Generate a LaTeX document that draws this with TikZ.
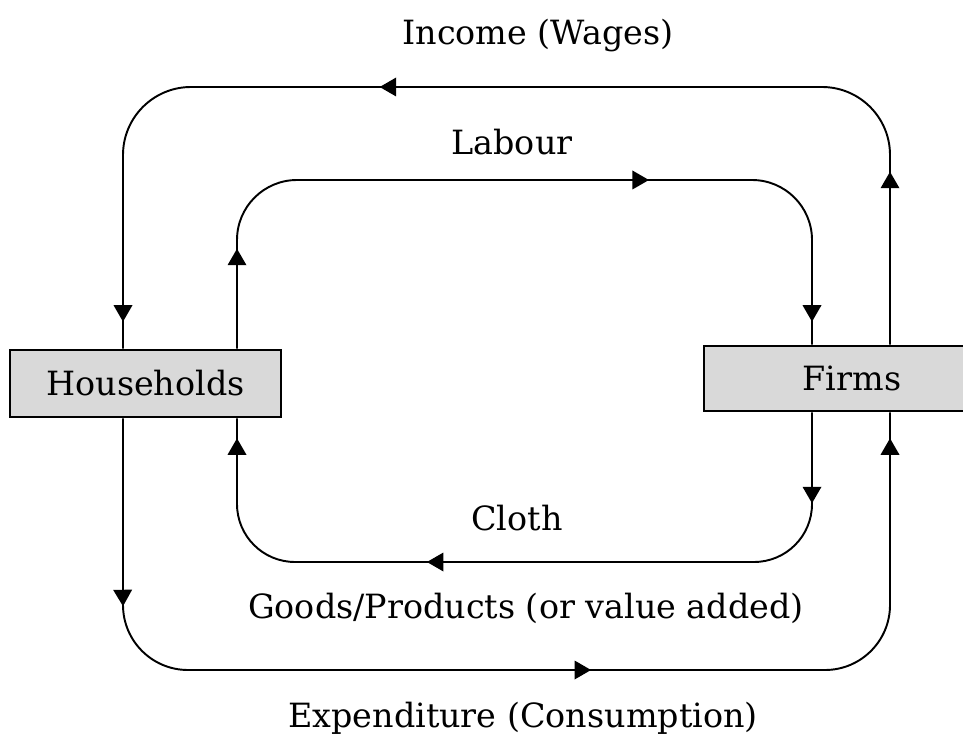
\documentclass[tikz,border=0pt]{standalone}
\usepackage{fontspec}
\setmainfont{DejaVu Serif}
\usetikzlibrary{arrows.meta, decorations.markings}

\tikzset{tri/.tip = {Triangle[length = 0.33cm, width = 0.37cm]}}

\begin{document}
\begin{tikzpicture}[x = 0.02cm, y = -0.02cm,
	sector/.style = {draw, line width = 1.5pt, fill = black!15, inner sep = 0pt, font = \fontsize{19}{23}\selectfont},
	flow/.style = {line width = 1.1pt},
	flowtext/.style = {anchor = base, font = \fontsize{19}{23}\selectfont},
	tips/.style n args = {3}{decoration = {markings,
		mark = at position #1 with {\arrow{tri}},
		mark = at position #2 with {\arrow{tri}},
		mark = at position #3 with {\arrow{tri}}}, postaction = decorate}]

	\useasboundingbox (0, 0) rectangle (963, 736);

	% Sectors

	\node [sector, minimum width = 5.42cm, minimum height = 1.34cm] (households) at (145.5, 383.5) {Households};
	\node [sector, minimum width = 5.92cm, minimum height = 1.3cm] (firms) at (852, 378.5) {Firms};

	% Corners of the loops

	\coordinate (incomeR) at (890, 87);
	\coordinate (incomeL) at (123, 87);
	\coordinate (labourL) at (237, 180);
	\coordinate (labourR) at (812, 180);
	\coordinate (clothR) at (812, 562);
	\coordinate (clothL) at (237, 562);
	\coordinate (spendL) at (123, 670);
	\coordinate (spendR) at (890, 670);

	% Loops

	\draw [flow, rounded corners = 1.36cm, tips = {3.46cm}{14.78cm}{-0.54cm}]
		(firms.north -| incomeR) -- (incomeR) -- (incomeL) -- (households.north -| incomeL);
	\draw [flow, rounded corners = 1.2cm, tips = {2cm}{11.1cm}{-0.46cm}]
		(households.north -| labourL) -- (labourL) -- (labourR) -- (firms.north -| labourR);
	\draw [flow, rounded corners = 1.16cm, tips = {1.82cm}{10.2cm}{-0.4cm}]
		(firms.south -| clothR) -- (clothR) -- (clothL) -- (households.south -| clothL);
	\draw [flow, rounded corners = 1.3cm, tips = {3.76cm}{13.84cm}{-0.52cm}]
		(households.south -| spendL) -- (spendL) -- (spendR) -- (firms.south -| spendR);

	% Labels

	\node [flowtext] (income) at (538, 45) {Income (Wages)};
	\node [flowtext] (labour) at (512, 155) {Labour};
	\node [flowtext] (cloth) at (517, 530) {Cloth};
	\node [flowtext] (goods) at (526, 618) {Goods/Products (or value added)};
	\node [flowtext] (spending) at (523, 727) {Expenditure (Consumption)};

\end{tikzpicture}
\end{document}
